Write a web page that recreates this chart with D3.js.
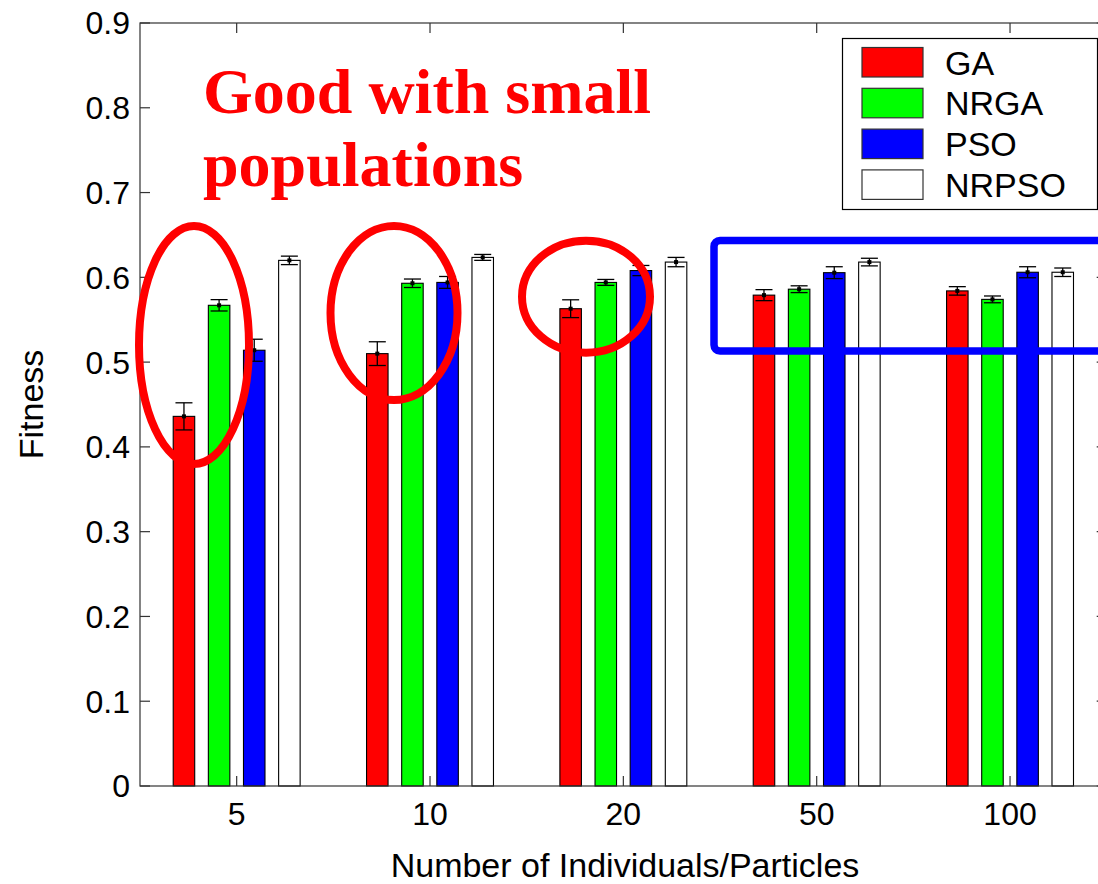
<!DOCTYPE html>
<html>
<head>
<meta charset="utf-8">
<script src="https://cdn.jsdelivr.net/npm/d3@7"></script>
<style>
  html, body { margin: 0; padding: 0; background: #fff; }
  svg { display: block; }
  text { font-family: "Liberation Sans", Arial, Helvetica, sans-serif; fill: #000; }
</style>
</head>
<body>
<svg id="chart" width="1098" height="884"></svg>
<script>
// Population sizes on the x axis
const categories = ["5", "10", "20", "50", "100"];
// Algorithms compared
const series = ["GA", "NRGA", "PSO", "NRPSO"];
const seriesColors = ["#ff0000", "#00ff00", "#0000ff", "#ffffff"];

// Mean fitness and error half-widths per algorithm
const gaMean    = [0.436, 0.510, 0.563, 0.579, 0.584];
const gaErr     = [0.016, 0.014, 0.0105, 0.0065, 0.005];
const nrgaMean  = [0.567, 0.593, 0.594, 0.586, 0.574];
const nrgaErr   = [0.0067, 0.005, 0.0035, 0.004, 0.004];
const psoMean   = [0.514, 0.594, 0.608, 0.6055, 0.606];
const psoErr    = [0.013, 0.007, 0.006, 0.007, 0.0065];
const nrpsoMean = [0.620, 0.6235, 0.618, 0.618, 0.606];
const nrpsoErr  = [0.005, 0.0035, 0.0055, 0.0045, 0.005];

// Y axis ticks
const yTickValues = [0, 0.1, 0.2, 0.3, 0.4, 0.5, 0.6, 0.7, 0.8, 0.9];
const yTickLabels = ["0", "0.1", "0.2", "0.3", "0.4", "0.5", "0.6", "0.7", "0.8", "0.9"];

const means = [gaMean, nrgaMean, psoMean, nrpsoMean];
const errs  = [gaErr, nrgaErr, psoErr, nrpsoErr];

const svg = d3.select("#chart");

// Plot box (right edge runs past the canvas)
const plotL = 140, plotR = 1106.7, plotT = 23, plotB = 786;

const y = d3.scaleLinear().domain([0, 0.9]).range([plotB, plotT]);
const x0 = d3.scaleBand().domain(categories).range([plotL, plotR]).padding(0);
const groupFrac = 0.727;
const groupW = x0.bandwidth() * groupFrac;
const x1 = d3.scaleBand().domain(series).range([0, groupW])
  .paddingInner(0.388).paddingOuter(0.194);
const groupStart = c => x0(c) + (x0.bandwidth() - groupW) / 2;

// Bars
const barData = [];
categories.forEach((c, ci) => {
  series.forEach((s, si) => {
    barData.push({ c, s, si, v: means[si][ci], e: errs[si][ci] });
  });
});

const gBars = svg.append("g");
gBars.selectAll("rect").data(barData).join("rect")
  .attr("x", d => groupStart(d.c) + x1(d.s))
  .attr("y", d => y(d.v))
  .attr("width", x1.bandwidth())
  .attr("height", d => y(0) - y(d.v))
  .attr("fill", d => seriesColors[d.si])
  .attr("stroke", "#000")
  .attr("stroke-width", 1.1);

// Error bars
const capW = 17;
const gErr = svg.append("g").attr("stroke", "#000").attr("stroke-width", 1.3);
barData.forEach(d => {
  const cx = groupStart(d.c) + x1(d.s) + x1.bandwidth() / 2;
  gErr.append("line").attr("x1", cx).attr("x2", cx)
    .attr("y1", y(d.v - d.e)).attr("y2", y(d.v + d.e));
  gErr.append("line").attr("x1", cx - capW / 2).attr("x2", cx + capW / 2)
    .attr("y1", y(d.v + d.e)).attr("y2", y(d.v + d.e));
  gErr.append("line").attr("x1", cx - capW / 2).attr("x2", cx + capW / 2)
    .attr("y1", y(d.v - d.e)).attr("y2", y(d.v - d.e));
  svg.append("rect").attr("x", cx - 2).attr("y", y(d.v) - 2)
    .attr("width", 4).attr("height", 4).attr("fill", "#000");
});

// Axes box with inward ticks on all four sides
const axisColor = "#333";
const tickLen = 10;
const gAxis = svg.append("g").attr("stroke", axisColor).attr("stroke-width", 1.2).attr("fill", "none");
gAxis.append("rect").attr("x", plotL).attr("y", plotT)
  .attr("width", plotR - plotL).attr("height", plotB - plotT);
yTickValues.forEach(v => {
  gAxis.append("line").attr("x1", plotL).attr("x2", plotL + tickLen).attr("y1", y(v)).attr("y2", y(v));
  gAxis.append("line").attr("x1", plotR).attr("x2", plotR - tickLen).attr("y1", y(v)).attr("y2", y(v));
});
categories.forEach(c => {
  const cx = x0(c) + x0.bandwidth() / 2;
  gAxis.append("line").attr("x1", cx).attr("x2", cx).attr("y1", plotB).attr("y2", plotB - tickLen);
  gAxis.append("line").attr("x1", cx).attr("x2", cx).attr("y1", plotT).attr("y2", plotT + tickLen);
});

// Tick labels
const tickFs = 32;
svg.append("g").selectAll("text").data(yTickValues).join("text")
  .attr("x", plotL - 10)
  .attr("y", d => y(d) + tickFs * 0.358)
  .attr("text-anchor", "end")
  .attr("font-size", tickFs)
  .text((d, i) => yTickLabels[i]);
svg.append("g").selectAll("text").data(categories).join("text")
  .attr("x", d => x0(d) + x0.bandwidth() / 2)
  .attr("y", 825)
  .attr("text-anchor", "middle")
  .attr("font-size", tickFs)
  .text(d => d);

// Axis titles
svg.append("text")
  .attr("x", 625).attr("y", 877)
  .attr("text-anchor", "middle").attr("font-size", 34)
  .text("Number of Individuals/Particles");
svg.append("text")
  .attr("transform", `translate(43, ${(plotT + plotB) / 2}) rotate(-90)`)
  .attr("text-anchor", "middle").attr("font-size", 34)
  .text("Fitness");

// Legend
const lg = svg.append("g");
lg.append("rect").attr("x", 842.5).attr("y", 38.5).attr("width", 255).attr("height", 171)
  .attr("fill", "#fff").attr("stroke", "#000").attr("stroke-width", 1.2);
series.forEach((s, i) => {
  const ry = 47.5 + i * 40.8;
  lg.append("rect").attr("x", 862).attr("y", ry).attr("width", 61).attr("height", 29.5)
    .attr("fill", seriesColors[i]).attr("stroke", "#333").attr("stroke-width", 1.2);
  lg.append("text").attr("x", 945).attr("y", ry + 15 + 34 * 0.358)
    .attr("font-size", 34).text(s);
});

// Highlight marks
const hl = svg.append("g").attr("fill", "none");
const ellipses = [
  { cx: 194, cy: 345, rx: 55, ry: 119 },
  { cx: 394, cy: 313, rx: 63.5, ry: 87 },
  { cx: 586, cy: 296.7, rx: 64, ry: 56 }
];
hl.selectAll("ellipse").data(ellipses).join("ellipse")
  .attr("cx", d => d.cx).attr("cy", d => d.cy)
  .attr("rx", d => d.rx).attr("ry", d => d.ry)
  .attr("stroke", "#ff0000").attr("stroke-width", 8);
hl.append("rect").attr("x", 714).attr("y", 240.5).attr("width", 420).attr("height", 110.5)
  .attr("rx", 6).attr("stroke", "#0000ff").attr("stroke-width", 7.5);

// Annotation
const note = svg.append("text")
  .style("font-family", "'Liberation Serif', 'Times New Roman', serif")
  .style("font-weight", "bold").style("font-size", "64px")
  .style("fill", "#ff0000");
note.append("tspan").attr("x", 203).attr("y", 113).text("Good with small");
note.append("tspan").attr("x", 203).attr("y", 186).text("populations");
</script>
</body>
</html>
